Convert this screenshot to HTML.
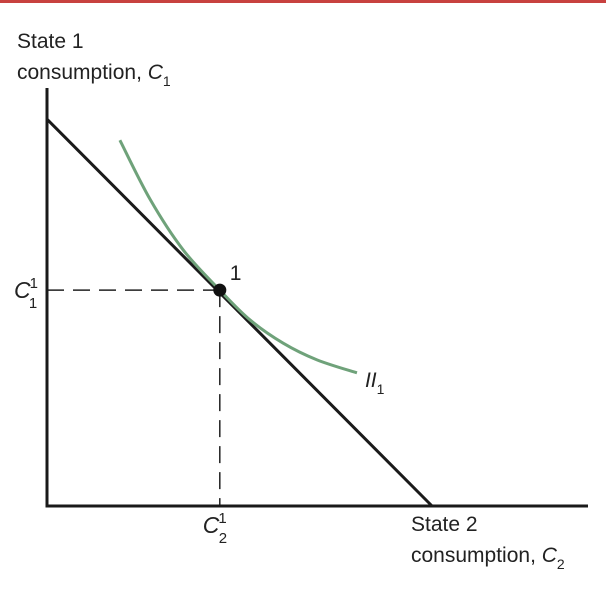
<!DOCTYPE html>
<html><head><meta charset="utf-8"><style>
html,body{margin:0;padding:0;background:#fff;}
svg{display:block;font-family:"Liberation Sans",sans-serif;}
</style></head><body>
<svg width="606" height="597" viewBox="0 0 606 597" xmlns="http://www.w3.org/2000/svg" id="chart">
<rect x="0" y="0" width="606" height="3" fill="#c8413f"/>
<text font-size="21" fill="#222"><tspan x="17" y="48">State 1</tspan><tspan x="17" y="79">consumption, <tspan font-style="italic">C</tspan><tspan font-size="14" dy="7">1</tspan></tspan></text>
<text font-size="21" fill="#222"><tspan x="411" y="531">State 2</tspan><tspan x="411" y="562">consumption, <tspan font-style="italic">C</tspan><tspan font-size="14" dy="7">2</tspan></tspan></text>
<g id="plot"></g>
</svg>
<script>
const budgetX=[0,71.3];
const budgetY=[92.1,0];
const curveX=[13.5,19.1,25.2,32.0,37.6,43.7,50.0,57.4];
const curveY=[87.1,73.0,61.0,51.4,44.3,38.8,34.8,31.7];
const pointX=[32.0];
const pointY=[51.4];
const sx=v=>47+v*5.4, sy=v=>506-v*4.2;
const NS="http://www.w3.org/2000/svg";
const g=document.getElementById('plot');
function mk(t,a){const e=document.createElementNS(NS,t);for(const k in a)e.setAttribute(k,a[k]);g.appendChild(e);return e;}
let e=mk('line',{x1:sx(0),y1:sy(pointY[0]),x2:sx(pointX[0]),y2:sy(pointY[0]),stroke:'#222','stroke-width':1.5,'stroke-dasharray':'17,9'});


e=mk('line',{x1:sx(pointX[0]),y1:sy(pointY[0]),x2:sx(pointX[0]),y2:sy(0),stroke:'#222','stroke-width':1.5,'stroke-dasharray':'17,9'});


e=mk('line',{x1:sx(budgetX[0]),y1:sy(budgetY[0]),x2:sx(budgetX[1]),y2:sy(budgetY[1]),stroke:'#1a1a1a','stroke-width':3});


const P=curveX.map((x,i)=>[sx(x),sy(curveY[i])]);
let d='M'+P[0][0]+','+P[0][1];
for(let i=0;i<P.length-1;i++){const p0=P[i-1]||P[i],p1=P[i],p2=P[i+1],p3=P[i+2]||P[i+1];
d+=' C'+(p1[0]+(p2[0]-p0[0])/6)+','+(p1[1]+(p2[1]-p0[1])/6)+' '+(p2[0]-(p3[0]-p1[0])/6)+','+(p2[1]-(p3[1]-p1[1])/6)+' '+p2[0]+','+p2[1];}
e=mk('path',{d:d,fill:'none',stroke:'#6fa27a','stroke-width':3});


e=mk('path',{d:'M47,88 L47,506 L588,506',fill:'none',stroke:'#1a1a1a','stroke-width':3});


e=mk('circle',{cx:sx(pointX[0]),cy:sy(pointY[0]),r:6.5,fill:'#111'});


function txt(name,x,y,html){const t=mk('text',{x:x,y:y,'font-size':21,fill:'#222'});t.innerHTML=html;

}
txt('point-label',sx(pointX[0])+10,sy(pointY[0])-10,'1');
txt('y-tick-c1',14,sy(pointY[0])+8,'<tspan font-style="italic" font-size="23">C</tspan><tspan font-size="15" dx="-1" dy="-10">1</tspan><tspan font-size="15" dx="-8" dy="20">1</tspan>');
txt('x-tick-c2',sx(pointX[0])-17,533,'<tspan font-style="italic" font-size="23">C</tspan><tspan font-size="15" dx="-1" dy="-10">1</tspan><tspan font-size="15" dx="-8" dy="20">2</tspan>');
txt('curve-label',sx(curveX[curveX.length-1])+8,sy(curveY[curveY.length-1])+14,'<tspan font-style="italic">II</tspan><tspan font-size="14" dy="7">1</tspan>');
</script>
</body></html>
